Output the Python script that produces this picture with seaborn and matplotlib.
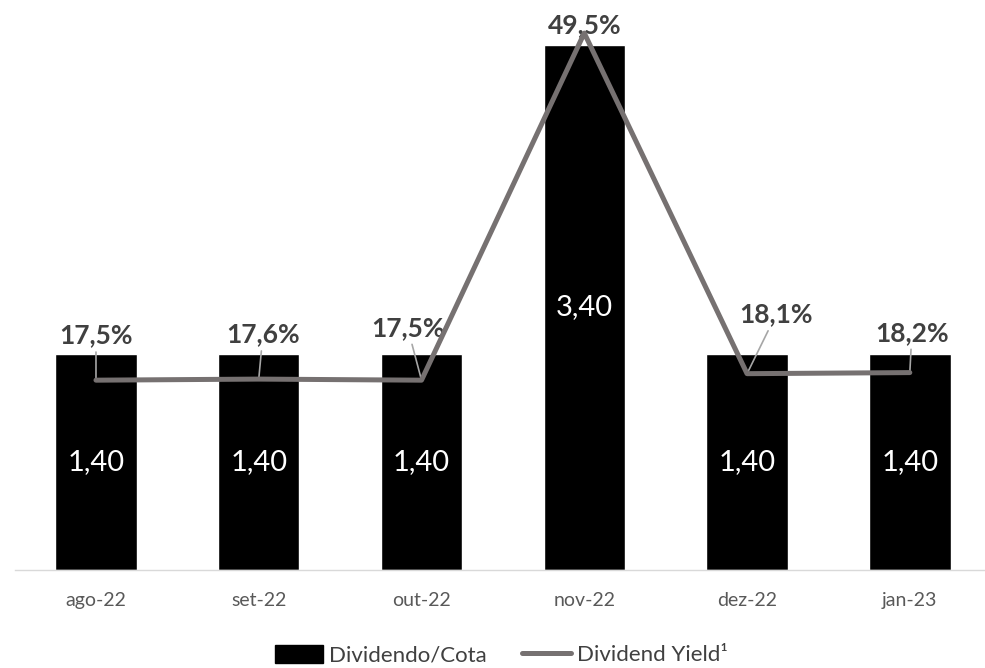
import numpy as np
import pandas as pd
import matplotlib
matplotlib.use("Agg")
import matplotlib.pyplot as plt
import seaborn as sns
from matplotlib.patches import Patch
from matplotlib.lines import Line2D

categories = ["ago-22", "set-22", "out-22", "nov-22", "dez-22", "jan-23"]
dividendo = [1.40, 1.40, 1.40, 3.40, 1.40, 1.40]
yield_pct = [17.5, 17.6, 17.5, 49.5, 18.1, 18.2]
div_labels = ["1,40", "1,40", "1,40", "3,40", "1,40", "1,40"]
yield_labels = ["17,5%", "17,6%", "17,5%", "49,5%", "18,1%", "18,2%"]

sns.set_style("white")
plt.rcParams['font.family'] = ['Lato', 'DejaVu Sans']

BAR = "#000000"
LINE = "#767171"
TXT = "#404040"

fig = plt.figure(figsize=(9.85, 6.68), dpi=100)
ax = fig.add_axes([14.6/985, 1-570/668, 976.6/985, 570/668])

df = pd.DataFrame({"cat": categories, "div": dividendo})
sns.barplot(data=df, x="cat", y="div", color=BAR, width=0.5, ax=ax, saturation=1)
ax.set_xlim(-0.5, 5.5)
ax.set_ylim(0, 3.69)
ax.set_xlabel("")
ax.set_ylabel("")
ax.set_yticks([])
for s in ["left", "right", "top"]:
    ax.spines[s].set_visible(False)
ax.spines["bottom"].set_color("#d9d9d9")
ax.spines["bottom"].set_linewidth(1)
ax.set_xticks(range(len(categories)))
ax.set_xticklabels(categories, fontsize=14, color="#595959")
ax.tick_params(axis="x", length=0, pad=16)
ax.set_xticks(np.arange(-0.5, len(categories)), minor=True)
ax.tick_params(axis="x", which="minor", length=7, color="#d9d9d9", width=1)

for i, (v, lab) in enumerate(zip(dividendo, div_labels)):
    ax.text(i, v/2, lab, ha="center", va="center", color="white", fontsize=21)

ax2 = ax.twinx()
xs = np.arange(len(categories))
sns.lineplot(x=xs, y=yield_pct, ax=ax2, color=LINE, linewidth=3.6, zorder=3)
ax2.set_ylim(0, 52.55)
ax2.set_yticks([])
ax2.set_ylabel("")
for s in ["left", "right", "top", "bottom"]:
    ax2.spines[s].set_visible(False)

# label offsets in points (dx, dy) relative to each data point
offsets = [(0, 26.5), (3, 26.5), (-10, 32), (0, 0), (21, 37), (1.5, 23)]
for i, (v, lab, off) in enumerate(zip(yield_pct, yield_labels, offsets)):
    arrow = None if off == (0, 0) else dict(arrowstyle="-", color="#a6a6a6", lw=1.2,
                                            shrinkA=1, shrinkB=0)
    ax2.annotate(lab, xy=(i, v), xytext=off, textcoords="offset points",
                 ha="center", va="baseline", fontsize=19, fontweight="bold",
                 color=TXT, arrowprops=arrow, zorder=1)

handles = [Patch(facecolor=BAR, edgecolor=BAR, label="Dividendo/Cota"),
           Line2D([0], [0], color=LINE, lw=3.6, solid_capstyle="round",
                  label="Dividend Yield¹")]
fig.legend(handles=handles, loc="center", bbox_to_anchor=(501/985, 1-655/668),
           ncol=2, frameon=False, fontsize=16, labelcolor="#404040",
           handlelength=2.2, handleheight=0.9, handletextpad=0.25, columnspacing=1.6)

fig.savefig("out.png", dpi=100)
